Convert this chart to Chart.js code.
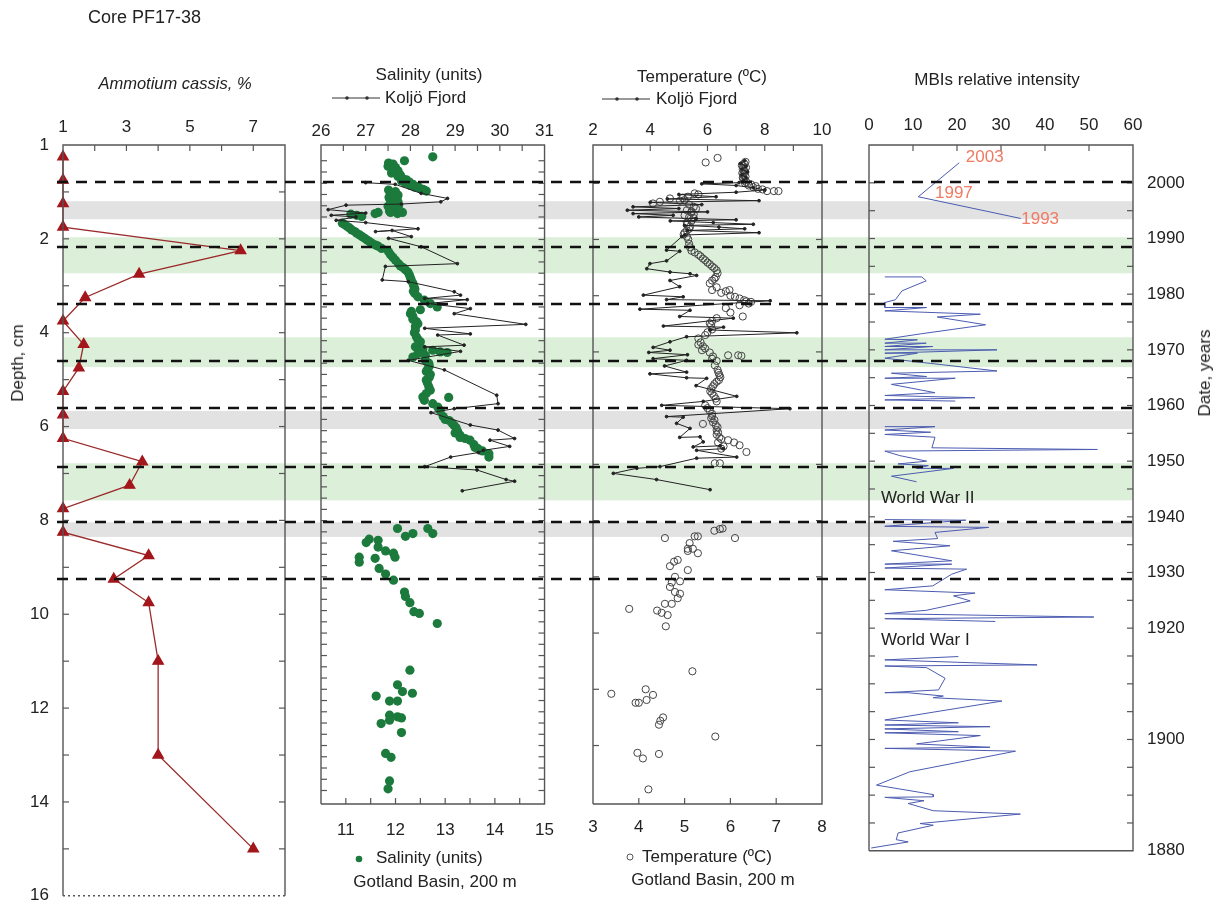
<!DOCTYPE html>
<html>
<head>
<meta charset="utf-8">
<title>Core PF17-38</title>
<script src="https://cdn.jsdelivr.net/npm/chart.js@4.4.1/dist/chart.umd.min.js"></script>
<style>
  html, body { margin: 0; padding: 0; background: #fff; }
  body { width: 1219px; height: 919px; position: relative; overflow: hidden;
         font-family: 'Liberation Sans', Arial, sans-serif; color: #222; }
  canvas { position: absolute; }
  .c, .l { position: absolute; white-space: nowrap; font-size: 17px; z-index: 5; }
  .c { transform: translate(-50%, -50%); }
  .l { transform: translateY(-50%); }
  .rot { transform: translate(-50%, -50%) rotate(-90deg); }
  svg { position: absolute; z-index: 5; }
</style>
</head>
<body>

<canvas id="bands" width="1219" height="919" style="left:0;top:0;z-index:0"></canvas>
<canvas id="amm" width="300" height="825" style="left:0;top:95px;z-index:1"></canvas>
<canvas id="sal" width="270" height="770" style="left:300px;top:95px;z-index:1"></canvas>
<canvas id="temp" width="270" height="770" style="left:573px;top:95px;z-index:1"></canvas>
<canvas id="mbi" width="369" height="780" style="left:850px;top:95px;z-index:1"></canvas>
<canvas id="dashes" width="1219" height="919" style="left:0;top:0;z-index:2"></canvas>

<div class="l" style="left:88px;top:17px;font-size:18px">Core PF17-38</div>
<div class="c" style="left:175px;top:83px;font-size:16.5px;font-style:italic">Ammotium cassis, %</div>
<div class="c rot" style="left:18px;top:363px">Depth, cm</div>

<div class="c" style="left:429px;top:75px">Salinity (units)</div>
<svg width="48" height="8" style="left:332px;top:94px"><line x1="0" y1="4" x2="48" y2="4" stroke="#333" stroke-width="1"/><circle cx="15" cy="4" r="1.8" fill="#333"/><circle cx="35" cy="4" r="1.8" fill="#333"/></svg>
<div class="l" style="left:385px;top:98px">Koljö Fjord</div>
<svg width="10" height="10" style="left:354px;top:854px"><circle cx="5" cy="5" r="3.3" fill="#1b7a3c"/></svg>
<div class="l" style="left:376px;top:858px">Salinity (units)</div>
<div class="c" style="left:435px;top:882px">Gotland Basin, 200 m</div>

<div class="c" style="left:702px;top:77px">Temperature (ºC)</div>
<svg width="48" height="8" style="left:602px;top:95px"><line x1="0" y1="4" x2="48" y2="4" stroke="#333" stroke-width="1"/><circle cx="15" cy="4" r="1.8" fill="#333"/><circle cx="35" cy="4" r="1.8" fill="#333"/></svg>
<div class="l" style="left:656px;top:99px">Koljö Fjord</div>
<svg width="10" height="10" style="left:625px;top:852px"><circle cx="5" cy="5" r="3" fill="none" stroke="#555" stroke-width="1"/></svg>
<div class="l" style="left:642px;top:857px">Temperature (ºC)</div>
<div class="c" style="left:713px;top:880px">Gotland Basin, 200 m</div>

<div class="c" style="left:997px;top:80px">MBIs relative intensity</div>
<div class="c rot" style="left:1205px;top:373px">Date, years</div>

<script>
var FONT = "'Liberation Sans', Arial, sans-serif";

// ---- Ammotium cassis (%) against depth (cm, axis units) ----
var ammDepth = [0.25, 0.75, 1.25, 1.75, 2.25, 2.75, 3.25, 3.75, 4.25, 4.75, 5.25, 5.75,
                6.25, 6.75, 7.25, 7.75, 8.25, 8.75, 9.25, 9.75, 11, 13, 15];
var ammPct = [1, 1, 1, 1, 6.6, 3.4, 1.7, 1, 1.65, 1.5, 1, 1,
              1, 3.5, 3.1, 1, 1, 3.7, 2.6, 3.7, 4.0, 4.0, 7.0];
var depthLabels = ['1', '2', '4', '6', '8', '10', '12', '14', '16'];

// ---- Salinity: Gotland Basin (bottom axis), [value, year] ----
var salGotland = [
  [12.75,2004.7],[12.18,2004.0],[11.86,2003.6],[11.92,2003.2],[12.0,2002.8],[11.95,2002.4],[12.02,2002.0],
  [12.08,2001.6],[12.05,2001.2],[12.15,2000.8],[12.12,2000.4],[12.2,2000.0],[12.3,1999.6],[12.39,1999.3],
  [12.5,1999.0],[12.58,1998.8],[11.86,1998.8],[12.0,1998.5],[11.9,1998.1],[12.04,1997.7],[11.88,1997.3],
  [12.02,1996.9],[11.9,1996.5],[12.06,1996.1],[11.92,1995.7],[12.0,1995.3],[11.88,1995.0],[12.04,1994.6],
  [11.95,2003.4],[11.85,2003.0],[11.98,2002.6],[12.05,2002.2],[11.92,2001.8],[12.1,2001.4],[12.22,2000.6],
  [12.28,2000.2],[12.35,1999.8],[12.45,1999.4],[12.55,1998.9],[12.62,1998.6],
  [11.95,1998.3],[12.05,1997.9],[11.87,1997.5],[11.97,1997.1],[12.05,1996.7],[11.95,1996.3],[11.85,1995.9],
  [12.0,1995.5],[12.08,1995.1],[11.9,1994.8],
  [12.14,1994.8],[11.65,1994.8],[11.59,1994.6],[11.1,1994.5],[11.22,1994.3],[11.32,1994.1],
  [10.93,1992.9],[11.03,1992.3],[11.12,1991.7],[11.22,1991.1],[11.33,1990.5],[11.43,1989.9],[11.53,1989.3],
  [10.98,1992.6],[11.08,1992.0],[11.18,1991.4],[11.28,1990.8],[11.38,1990.2],[11.48,1989.6],[11.6,1989.0],
  [11.65,1988.8],[11.72,1988.4],[11.86,1987.8],[11.95,1986.8],[12.06,1985.7],[12.15,1985.0],[12.25,1984.2],
  [12.3,1983.2],[12.35,1982.2],[12.39,1981.2],[12.39,1980.4],[12.58,1979.2],[12.84,1978.0],[12.3,1976.8],
  [11.9,1987.3],[12.0,1986.3],[12.1,1985.3],[12.2,1984.6],[12.28,1983.7],[12.32,1982.7],[12.37,1981.7],
  [12.36,1980.8],[12.45,1979.8],[12.7,1978.6],[12.5,1977.5],[12.32,1977.2],[12.35,1976.3],[12.42,1975.4],
  [12.4,1974.5],[12.38,1973.4],[12.45,1972.2],[12.48,1971.3],
  [12.35,1975.8],[12.45,1975.0],[12.4,1973.9],[12.42,1972.7],[12.5,1971.8],[12.4,1970.9],
  [12.55,1970.5],[12.75,1970.3],[12.9,1970.0],[13.04,1969.9],[12.45,1969.7],[12.6,1969.4],[12.35,1969.1],
  [12.67,1968.0],[12.65,1967.0],[12.7,1966.0],[12.62,1965.0],[12.67,1963.8],[12.58,1961.4],[13.07,1961.9],
  [12.6,1968.5],[12.68,1967.5],[12.62,1966.5],[12.68,1965.5],[12.64,1964.5],[12.7,1963.2],[12.62,1962.6],
  [12.55,1962.0],[12.75,1960.8],[12.85,1960.2],[13.0,1958.0],[13.08,1957.8],[13.18,1956.9],[13.3,1955.2],
  [13.4,1954.6],[13.25,1955.9],[13.58,1953.5],[13.75,1952.4],[13.6,1953.0],
  [12.9,1959.6],[12.96,1958.5],[13.14,1957.3],[13.22,1956.5],[13.2,1955.6],[13.3,1954.8],[13.5,1954.3],
  [13.66,1952.8],[13.88,1951.9],[13.88,1951.3],
  [12.04,1938.6],[12.2,1937.2],[12.35,1937.7],[12.65,1938.6],[12.75,1937.7],[11.47,1936.7],[11.41,1936.1],
  [11.65,1936.5],[11.65,1935.3],[11.8,1934.6],[11.96,1934.2],[11.99,1933.5],[11.27,1933.5],[11.27,1932.6],
  [11.59,1933.3],[11.67,1931.5],[11.8,1930.5],[11.96,1929.4],[12.18,1927.3],[12.2,1926.5],[12.29,1925.4],
  [12.37,1923.8],[12.48,1923.5],[12.84,1921.7],[12.29,1913.4],[12.04,1910.8],[12.14,1909.6],[12.34,1909.3],
  [11.61,1908.8],[11.88,1907.9],[12.04,1907.9],[11.88,1905.4],[12.04,1905.1],[12.12,1904.9],[11.88,1904.5],
  [11.71,1903.9],[12.12,1902.3],[11.8,1898.6],[11.91,1897.9],[11.88,1893.7],[11.85,1892.3]
];

// ---- Salinity: Koljö Fjord (top axis), [value, year] ----
var salKoljo = [
  [27.0,2000.1],[27.66,1999.8],[28.24,1998.2],[28.83,1997.3],[28.68,1996.7],[27.8,1996.3],[26.56,1996.1],
  [26.16,1995.3],[27.0,1994.7],[26.23,1994.3],[26.78,1994.0],[26.34,1993.4],[27.0,1993.0],[28.17,1991.9],
  [27.22,1991.4],[27.59,1991.6],[28.02,1990.5],[27.51,1990.2],[28.24,1988.7],[29.05,1985.7],[27.44,1985.2],
  [27.37,1982.8],[27.95,1982.5],[28.98,1980.7],[29.12,1980.1],[28.32,1979.5],[29.27,1979.3],[28.39,1978.6],
  [29.34,1977.7],[28.98,1976.8],[30.58,1974.9],[28.32,1974.2],[29.34,1973.2],[28.61,1973.0],[29.2,1971.2],
  [28.32,1970.9],[29.12,1970.1],[27.95,1968.5],[28.76,1966.8],[29.93,1962.3],[29.96,1960.8],[28.98,1959.9],
  [28.46,1959.2],[29.34,1957.0],[29.96,1956.1],[30.33,1954.6],[29.78,1954.3],[30.22,1953.2],[29.63,1952.5],
  [29.52,1952.1],[28.9,1951.3],[28.32,1949.6],[29.49,1949.0],[30.14,1947.3],[30.33,1947.0],[29.16,1945.3]
];

// ---- Temperature: Gotland Basin (bottom axis), [value, year] ----
var tempGotland = [
  [5.46,2003.7],[5.72,2004.5],[6.3,2003.5],[6.28,2003.0],[6.27,2002.5],[6.32,2002.0],[6.28,2001.5],
  [6.27,2001.0],[6.3,2000.5],[6.32,2000.0],[6.4,1999.6],[6.5,1999.3],[6.6,1999.0],[6.8,1998.6],
  [6.33,2003.8],[6.25,2003.2],[6.34,2002.8],[6.3,2002.2],[6.26,2001.8],[6.33,2001.2],[6.28,2000.8],
  [6.35,2000.2],[6.45,1999.8],[6.55,1999.5],[6.7,1998.9],
  [6.95,1998.6],[7.05,1998.6],[5.22,1998.2],[5.07,1997.6],[4.96,1997.4],[4.68,1997.3],[4.46,1996.7],
  [4.31,1996.4],[5.2,1995.8],[5.15,1995.0],[5.2,1994.5],[5.1,1994.0],[5.15,1993.3],[5.05,1992.6],
  [5.3,1998.0],[5.0,1997.0],[4.9,1996.9],[5.1,1996.2],[5.25,1995.5],[5.05,1995.2],[5.15,1994.8],
  [5.0,1994.3],[5.2,1993.8],[5.05,1993.0],[5.12,1992.3],[5.05,1991.6],[4.98,1990.9],[5.08,1990.0],
  [5.1,1989.2],[5.12,1988.6],
  [5.1,1991.9],[5.0,1991.2],[5.05,1990.5],[5.15,1988.0],[5.3,1987.3],[5.4,1986.6],[5.5,1985.9],
  [5.22,1987.7],[5.35,1987.0],[5.45,1986.3],[5.55,1985.6],[5.65,1984.9],[5.72,1984.0],[5.65,1983.0],
  [5.6,1985.2],[5.7,1984.5],[5.68,1983.3],[5.6,1982.7],[5.55,1982.2],[5.98,1981.0],[5.6,1981.0],
  [5.8,1980.5],[6.0,1980.0],[6.2,1979.5],[6.35,1979.0],[6.4,1978.6],[6.27,1976.3],[5.55,1975.1],
  [5.7,1981.5],[5.9,1980.8],[6.1,1979.8],[6.3,1979.2],[6.45,1978.9],[6.2,1978.3],[5.9,1977.8],
  [6.0,1977.0],[5.7,1976.0],[5.6,1975.5],
  [5.58,1974.8],[5.6,1974.0],[5.3,1972.4],[5.35,1971.7],[5.4,1971.0],[5.38,1970.3],[5.95,1969.4],
  [5.5,1973.5],[5.45,1973.0],[5.3,1971.3],[5.45,1970.6],[5.6,1968.8],[5.66,1967.6],[5.74,1966.3],
  [5.78,1965.5],[5.7,1964.7],[5.62,1963.9],[5.56,1963.0],[5.64,1962.2],[5.7,1961.2],[5.5,1960.0],
  [5.6,1959.0],[5.58,1958.2],[5.62,1957.5],[5.72,1956.6],[5.73,1955.7],[5.76,1954.8],[5.8,1954.5],
  [5.85,1953.2],[5.8,1952.8],
  [6.17,1969.4],[6.24,1969.3],[5.55,1969.9],[5.62,1969.2],[5.7,1968.4],[5.72,1966.8],[5.76,1965.9],
  [5.75,1965.0],[5.65,1964.3],[5.58,1963.5],[5.6,1962.6],[5.68,1961.7],[5.45,1960.5],[5.55,1959.5],
  [5.6,1958.6],[5.4,1957.2],[5.65,1957.9],[5.68,1957.0],[5.7,1956.1],[5.7,1955.3],[5.73,1953.9],
  [5.95,1954.3],[6.08,1953.9],[6.2,1953.4],[6.35,1952.2],[5.66,1950.2],[5.77,1950.2],
  [4.57,1936.9],[5.22,1937.2],[5.29,1937.2],[5.65,1938.2],[5.77,1938.5],[5.83,1938.6],[6.1,1936.9],
  [5.11,1936.0],[5.07,1935.0],[5.07,1934.6],[5.18,1935.0],[5.29,1934.2],[4.85,1933.0],[4.77,1932.7],
  [4.68,1931.9],[5.07,1931.2],[4.79,1930.0],[4.9,1929.2],[4.72,1929.0],[4.68,1928.2],[4.79,1927.3],
  [4.9,1927.0],[4.85,1926.2],[4.72,1925.2],[4.57,1925.2],[3.79,1924.3],[4.4,1924.0],[4.5,1923.6],
  [4.63,1923.2],[4.59,1921.2],[5.17,1913.2],[4.15,1910.0],[3.4,1909.2],[4.31,1909.0],[4.17,1908.1],
  [3.93,1907.6],[4.0,1907.6],[4.53,1905.0],[4.47,1904.4],[4.44,1903.7],[5.67,1901.6],[3.97,1898.7],
  [4.09,1897.7],[4.44,1898.5],[4.21,1892.2]
];

// ---- Temperature: Koljö Fjord (top axis), [value, year] ----
var tempKoljo = [
  [7.3,2004.0],[7.15,2003.5],[7.35,2003.0],[7.2,2002.5],[7.4,2002.0],[7.2,2001.5],[7.35,2001.0],
  [7.25,2000.5],[7.1,2000.1],[5.8,1999.9],[7.0,1999.6],[7.6,1999.2],[8.0,1998.8],[7.0,1998.4],
  [5.0,1998.0],[6.3,1997.6],[4.6,1997.2],[7.8,1996.9],[4.0,1996.6],[5.8,1996.2],[3.4,1995.8],
  [5.0,1995.5],[3.2,1995.2],[6.0,1994.9],[3.4,1994.6],[4.8,1994.3],[3.6,1994.0],[5.6,1993.7],
  [7.0,1993.5],[4.7,1993.3],[6.2,1993.0],[7.6,1992.7],[5.2,1992.5],[6.4,1992.2],[7.3,1991.9],
  [5.3,1991.6],[7.8,1991.2],[5.2,1990.8],[5.1,1990.5],[4.57,1988.1],[5.03,1987.9],[4.57,1986.2],
  [3.99,1985.7],[3.88,1984.8],[4.69,1984.2],[5.39,1983.9],[5.62,1983.6],[4.69,1982.7],[5.03,1981.6],
  [3.76,1980.1],[5.15,1979.8],[4.57,1979.3],[8.19,1979.1],[3.64,1977.6],[5.39,1977.4],[5.03,1976.3],
  [6.9,1976.0],[4.46,1974.6],[6.56,1974.4],[6.09,1973.9],[9.12,1973.4],[5.27,1972.7],[4.69,1971.8],
  [4.1,1970.8],[4.69,1970.3],[3.95,1969.9],[5.3,1969.5],[4.1,1968.8],[5.27,1968.5],[4.5,1967.5],
  [5.27,1966.4],[3.99,1966.1],[5.27,1965.4],[5.97,1965.3],[5.6,1964.0],[7.02,1962.1],[5.85,1961.2],
  [4.4,1960.5],[8.88,1959.9],[4.57,1958.5],[5.15,1958.4],[4.92,1957.3],[5.39,1956.4],[5.03,1954.8],
  [5.74,1954.9],[5.85,1954.0],[5.5,1953.1],[6.44,1953.3],[6.55,1952.8],[5.62,1952.5],[7.02,1951.3],
  [5.62,1951.1],[4.34,1949.6],[3.53,1949.3],[2.71,1948.4],[4.22,1947.3],[6.09,1945.5]
];

// ---- MBI relative intensity, [value, year], one array per unbroken stretch ----
var mbi1993 = [[20.5,2003.6],[11.2,1997.5],[34.5,1993.6]];
var mbi1983 = [
  [3.6,1983.1],[12.0,1983.1],[13.0,1982.4],[7.5,1980.6],[6.0,1979.0],[3.6,1978.5],[3.6,1977.6],
  [13.1,1977.6],[3.6,1977.0],[25.3,1976.4],[15.5,1975.9],[26.5,1974.5],[12.0,1972.9],[3.6,1971.9],
  [11.0,1971.8],[3.6,1971.2],[13.0,1971.2],[3.6,1970.6],[14.5,1970.6],[3.6,1970.0],[29.1,1970.0],
  [3.6,1969.4],[11.0,1969.4],[3.6,1968.5],[29.1,1966.2],[5.1,1965.8],[13.1,1965.2],[3.6,1964.9],
  [19.6,1964.9],[5.1,1963.8],[15.0,1962.3],[3.6,1961.8],[24.1,1961.4],[3.6,1961.0],[19.6,1960.8]
];
var mbi1956 = [
  [3.6,1956.2],[15.0,1956.2],[3.6,1955.6],[14.0,1955.2],[3.6,1954.8],[15.0,1954.3],[14.3,1952.4],
  [51.9,1952.1],[3.6,1951.8],[7.0,1951.0],[13.1,1950.0],[6.6,1949.5],[13.5,1949.2],[10.8,1948.7],
  [19.2,1948.7],[5.1,1947.3],[10.8,1946.3]
];
var mbi1939 = [
  [3.6,1939.5],[22.0,1939.4],[3.6,1938.3],[27.2,1938.1],[15.0,1937.2],[15.6,1936.1],[5.5,1935.6],
  [18.4,1934.8],[5.1,1933.9],[18.8,1932.1],[3.6,1931.5],[18.8,1931.5],[3.6,1930.8],[22.2,1930.6],
  [18.8,1929.7],[14.5,1927.6],[3.6,1926.9],[24.1,1926.3],[19.2,1925.8],[23.0,1924.9],[13.0,1923.2],
  [3.6,1922.6],[51.1,1922.0],[3.6,1921.7],[28.7,1921.2]
];
var mbi1914 = [
  [20.3,1914.9],[3.6,1914.3],[38.2,1913.4],[3.6,1913.2],[13.1,1912.9],[17.3,1911.0],[15.8,1908.9],
  [3.6,1908.4],[8.9,1908.4],[16.9,1907.8],[14.6,1907.5],[30.2,1906.9],[3.6,1903.5],[20.3,1903.0],
  [3.6,1902.6],[27.5,1902.3],[3.6,1901.9],[20.3,1901.4],[3.6,1901.2],[25.3,1900.7],[10.8,1899.2],
  [27.5,1898.6],[3.6,1898.4],[33.3,1897.9],[9.3,1894.2],[1.7,1891.8],[14.6,1890.1],[14.6,1889.7],
  [3.6,1889.6],[12.5,1889.0],[8.9,1888.5],[14.6,1887.2],[34.4,1886.6],[11.6,1884.9],[14.6,1884.6],
  [6.6,1883.2],[6.2,1882.0],[8.9,1881.6],[0.5,1880.5]
];
var mbiNotes = [
  { text: '2003', x: 22, y: 2004.6, color: '#f07a62' },
  { text: '1997', x: 15, y: 1998.2, color: '#f07a62' },
  { text: '1993', x: 34.6, y: 1993.4, color: '#f07a62' },
  { text: 'World War II', x: 2.7, y: 1943.3, color: '#222' },
  { text: 'World War I', x: 2.7, y: 1917.9, color: '#222' }
];
var yearLabels = [1880, 1900, 1920, 1930, 1940, 1950, 1960, 1970, 1980, 1990, 2000];

// ---- shared horizontal markers (years) ----
var dashYears = [2000.2, 1988.7, 1978.6, 1968.3, 1960.05, 1949.6, 1939.7, 1929.6];
var grayBands = [[1993.6, 1996.8], [1956.3, 1959.5], [1937.1, 1939.7]];
var greenBands = [[1984.0, 1990.4], [1967.3, 1972.6], [1943.6, 1950.2]];

var YEAR_TOP = 2006.8, YEAR_BOTTOM = 1880, YEAR_PANEL_BOTTOM = 1889.6;

function pts(list) {
  return list.map(function (p) { return { x: p[0], y: p[1] }; });
}

// box round the plot area plus inward tick marks
var frame = {
  id: 'frame',
  afterDatasetsDraw: function (chart, args, opts) {
    var a = chart.chartArea, ctx = chart.ctx;
    ctx.save();
    ctx.strokeStyle = '#555';
    ctx.lineWidth = 1.4;
    ctx.beginPath();
    ctx.moveTo(a.left, a.bottom);
    ctx.lineTo(a.left, a.top);
    ctx.lineTo(a.right, a.top);
    ctx.lineTo(a.right, a.bottom);
    if (!opts.dottedBottom) ctx.lineTo(a.left, a.bottom);
    ctx.stroke();
    if (opts.dottedBottom) {
      ctx.setLineDash([2, 3]);
      ctx.beginPath();
      ctx.moveTo(a.left, a.bottom);
      ctx.lineTo(a.right, a.bottom);
      ctx.stroke();
      ctx.setLineDash([]);
    }
    ctx.lineWidth = 1.2;
    (opts.marks || []).forEach(function (m) {
      var s = chart.scales[m.axis];
      s.ticks.forEach(function (t) {
        if (t.value <= s.min || t.value >= s.max) return;
        var p = s.getPixelForValue(t.value);
        m.sides.forEach(function (side) {
          ctx.beginPath();
          if (side === 'top') { ctx.moveTo(p, a.top); ctx.lineTo(p, a.top + 6); }
          if (side === 'bottom') { ctx.moveTo(p, a.bottom); ctx.lineTo(p, a.bottom - 6); }
          if (side === 'left') { ctx.moveTo(a.left, p); ctx.lineTo(a.left + 6, p); }
          if (side === 'right') { ctx.moveTo(a.right, p); ctx.lineTo(a.right - 6, p); }
          ctx.stroke();
        });
      });
    });
    ctx.restore();
  }
};

// shaded bands and dashed lines across all panels
var markers = {
  id: 'markers',
  beforeDatasetsDraw: function (chart, args, opts) {
    var a = chart.chartArea, ctx = chart.ctx, y = chart.scales.y;
    ctx.save();
    if (opts.bands) {
      grayBands.forEach(function (b) {
        ctx.fillStyle = '#e2e2e3';
        var y0 = y.getPixelForValue(b[1]), y1 = y.getPixelForValue(b[0]);
        ctx.fillRect(a.left, y0, a.right - a.left, y1 - y0);
      });
      greenBands.forEach(function (b) {
        ctx.fillStyle = '#dcefd9';
        var y0 = y.getPixelForValue(b[1]), y1 = y.getPixelForValue(b[0]);
        ctx.fillRect(a.left, y0, a.right - a.left, y1 - y0);
      });
    }
    if (opts.dashes) {
      ctx.strokeStyle = '#111';
      ctx.lineWidth = 2.6;
      ctx.setLineDash([11, 8]);
      dashYears.forEach(function (yr) {
        var p = Math.round(y.getPixelForValue(yr));
        ctx.beginPath();
        ctx.moveTo(a.left - 6, p);
        ctx.lineTo(a.right, p);
        ctx.stroke();
      });
    }
    ctx.restore();
  }
};

var notes = {
  id: 'notes',
  afterDatasetsDraw: function (chart, args, opts) {
    var ctx = chart.ctx, xs = chart.scales.x, ys = chart.scales.y;
    ctx.save();
    ctx.font = '17px ' + FONT;
    ctx.textAlign = 'left';
    ctx.textBaseline = 'middle';
    opts.items.forEach(function (n) {
      ctx.fillStyle = n.color;
      ctx.fillText(n.text, xs.getPixelForValue(n.x), ys.getPixelForValue(n.y));
    });
    ctx.restore();
  }
};

function tickFont() { return { size: 17, family: FONT }; }
function hidden() { return { display: false, drawTicks: false }; }

function overlay(id, opts) {
  return new Chart(document.getElementById(id), {
    type: 'scatter',
    data: { datasets: [] },
    plugins: [markers],
    options: {
      responsive: false, animation: false, events: [],
      layout: { padding: { left: 63, right: 86, top: 145, bottom: 61 } },
      scales: {
        x: { display: false, min: 0, max: 1 },
        y: { display: false, min: YEAR_BOTTOM, max: YEAR_TOP }
      },
      plugins: { legend: { display: false }, tooltip: { enabled: false }, markers: opts }
    }
  });
}

overlay('bands', { bands: true, dashes: false });

// ---- panel 1: Ammotium cassis ----
new Chart(document.getElementById('amm'), {
  type: 'scatter',
  data: {
    datasets: [{
      data: ammDepth.map(function (d, i) { return { x: ammPct[i], y: d }; }),
      showLine: true,
      borderColor: '#9a2a2a',
      borderWidth: 1.3,
      pointStyle: 'triangle',
      pointRadius: 6,
      pointBackgroundColor: '#a3161b',
      pointBorderColor: '#a3161b',
      clip: false
    }]
  },
  plugins: [frame],
  options: {
    responsive: false, animation: false, events: [],
    layout: { padding: { left: 0, right: 15, top: 0, bottom: 12 } },
    scales: {
      x: {
        type: 'linear', position: 'top', min: 1, max: 8,
        grid: hidden(), border: { display: false },
        ticks: { stepSize: 1, autoSkip: false, maxRotation: 0, padding: 7, color: '#222', font: tickFont(),
                 callback: function (v) { return v % 2 === 1 ? String(v) : ''; } },
        afterFit: function (s) { s.height = 50; }
      },
      y: {
        type: 'linear', position: 'left', reverse: true, min: 0, max: 16,
        grid: hidden(), border: { display: false },
        ticks: { stepSize: 1, autoSkip: false, padding: 14, color: '#222', font: tickFont(),
                 callback: function (v) { return v % 2 === 0 ? depthLabels[v / 2] : ''; } },
        afterFit: function (s) { s.width = 63; }
      }
    },
    plugins: {
      legend: { display: false }, tooltip: { enabled: false },
      frame: { dottedBottom: true, marks: [{ axis: 'x', sides: ['top'] }, { axis: 'y', sides: ['left', 'right'] }] }
    }
  }
});

// ---- panels 2 and 3: salinity and temperature ----
function profilePanel(id, line, dots, dotStyle, top, bottom, yStep, pad) {
  return new Chart(document.getElementById(id), {
    type: 'scatter',
    data: {
      datasets: [
        {
          data: pts(line), xAxisID: 'xTop', yAxisID: 'y', showLine: true,
          borderColor: '#222', borderWidth: 1, pointRadius: 1.4,
          pointBackgroundColor: '#222', pointBorderColor: '#222'
        },
        Object.assign({ data: pts(dots), xAxisID: 'xBot', yAxisID: 'y', showLine: false }, dotStyle)
      ]
    },
    plugins: [frame],
    options: {
      responsive: false, animation: false, events: [],
      layout: { padding: { left: pad.left, right: pad.right, top: 0, bottom: 21 } },
      scales: {
        xTop: {
          type: 'linear', position: 'top', min: top.min, max: top.max,
          grid: hidden(), border: { display: false },
          ticks: { stepSize: top.step, autoSkip: false, maxRotation: 0, padding: top.padding, color: '#222', font: tickFont(),
                   callback: function (v) { return Math.abs(v % top.label) < 1e-9 ? String(v) : ''; } },
          afterFit: function (s) { s.height = 50; }
        },
        xBot: {
          type: 'linear', position: 'bottom', min: bottom.min, max: bottom.max,
          grid: hidden(), border: { display: false },
          ticks: { stepSize: bottom.step, autoSkip: false, maxRotation: 0, padding: bottom.padding, color: '#222', font: tickFont(),
                   callback: function (v) { return Math.abs(v % 1) < 1e-9 ? String(v) : ''; } },
          afterFit: function (s) { s.height = 40; }
        },
        y: {
          type: 'linear', position: 'left', min: YEAR_PANEL_BOTTOM, max: YEAR_TOP,
          grid: hidden(), border: { display: false },
          ticks: { display: false, stepSize: yStep },
          afterFit: function (s) { s.width = 0; }
        }
      },
      plugins: {
        legend: { display: false }, tooltip: { enabled: false },
        frame: { marks: [{ axis: 'xTop', sides: ['top'] }, { axis: 'xBot', sides: ['bottom'] },
                         { axis: 'y', sides: ['left', 'right'] }] }
      }
    }
  });
}

profilePanel('sal', salKoljo, salGotland,
  { pointRadius: 4.6, pointBackgroundColor: '#1b7a3c', pointBorderColor: '#1b7a3c', pointBorderWidth: 0 },
  { min: 26, max: 31, step: 0.5, label: 1, padding: 3 },
  { min: 10.5, max: 15, step: 0.5, padding: 16 },
  2, { left: 21, right: 21 });

profilePanel('temp', tempKoljo, tempGotland,
  { pointRadius: 3.6, pointBackgroundColor: 'rgba(0,0,0,0)', pointBorderColor: '#444', pointBorderWidth: 1 },
  { min: 2, max: 10, step: 1, label: 2, padding: 4 },
  { min: 3, max: 8, step: 1, padding: 13 },
  10, { left: 20, right: 21 });

// ---- panel 4: MBIs ----
function mbiSet(list) {
  return { data: pts(list), showLine: true, borderColor: '#4b5bb0', borderWidth: 1, pointRadius: 0 };
}

new Chart(document.getElementById('mbi'), {
  type: 'scatter',
  data: { datasets: [mbiSet(mbi1993), mbiSet(mbi1983), mbiSet(mbi1956), mbiSet(mbi1939), mbiSet(mbi1914)] },
  plugins: [frame, notes],
  options: {
    responsive: false, animation: false, events: [],
    layout: { padding: { left: 19, right: 16, top: 0, bottom: 17 } },
    scales: {
      x: {
        type: 'linear', position: 'top', min: 0, max: 60,
        grid: hidden(), border: { display: false },
        ticks: { stepSize: 10, autoSkip: false, maxRotation: 0, padding: 9, color: '#222', font: tickFont() },
        afterFit: function (s) { s.height = 50; }
      },
      y: {
        type: 'linear', position: 'right', min: YEAR_BOTTOM, max: YEAR_TOP,
        grid: hidden(), border: { display: false },
        ticks: { stepSize: 5, autoSkip: false, padding: 14, color: '#222', font: tickFont(),
                 callback: function (v) { return yearLabels.indexOf(v) >= 0 ? String(v) : ''; } },
        afterFit: function (s) { s.width = 70; }
      }
    },
    plugins: {
      legend: { display: false }, tooltip: { enabled: false },
      frame: { marks: [{ axis: 'x', sides: ['top'] }, { axis: 'y', sides: ['left', 'right'] }] },
      notes: { items: mbiNotes }
    }
  }
});

overlay('dashes', { bands: false, dashes: true });
</script>
</body>
</html>
